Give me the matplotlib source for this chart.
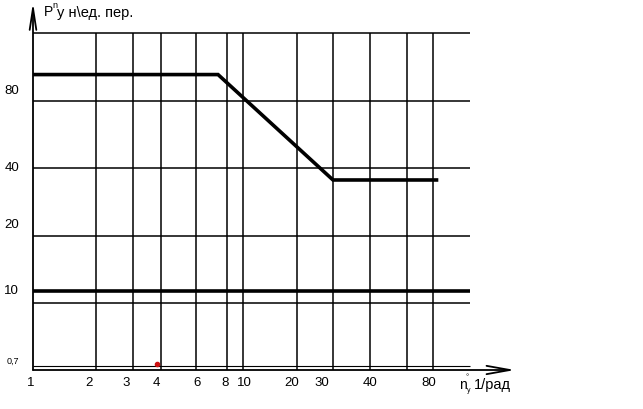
import numpy as np
import matplotlib.pyplot as plt

plt.rcParams['font.family'] = ['Liberation Sans', 'DejaVu Sans']

# vertical grid lines (x values, schematic) and horizontal grid lines (y values)
x_grid = [2, 3, 4.07, 6, 8.4, 10, 18.1, 26.8, 40, 60, 80]
y_grid = [4.3, 8.7, 18.6, 40, 85, 184]

# x tick labels and where they sit
x_tick_pos = [0.97, 1.85, 2.77, 3.85, 6.04, 8.2, 10.2, 17.1, 23.7, 40.3, 76.2]
x_tick_labels = ['1', '2', '3', '4', '6', '8', '10', '20', '30', '40', '80']

# y tick labels (schematic positions)
y_ticks = [4.5, 10, 21, 40, 95]
y_tick_labels = ['0,7', '10', '20', '40', '80']

# main curve
curve_x = [1, 7.6, 26.8, 85]
curve_y = [115, 115, 35, 35]

# constant level
level_x = [1, 120]
level_y = [10, 10]

# red point
dot_x = [3.9]
dot_y = [4.4]

W, H = 643, 409
fig = plt.figure(figsize=(W / 100, H / 100), dpi=100)
ax = fig.add_axes([33 / W, 1 - 370 / H, (515 - 33) / W, (370 - 12) / H])
ax.set_xscale('log')
ax.set_yscale('log')
xmin, xmax = 1, 197
ymin, ymax = 4.1, 233
ax.set_xlim(xmin, xmax)
ax.set_ylim(ymin, ymax)
for s in ax.spines.values():
    s.set_visible(False)
ax.set_xticks([])
ax.set_yticks([])
ax.minorticks_off()

grid_right = 120
for xv in x_grid:
    ax.plot([xv, xv], [ymin, y_grid[-1]], color='black', lw=1.1, solid_capstyle='butt')
for yv in y_grid:
    lw = 0.8 if yv == y_grid[0] else 1.1
    ax.plot([1, grid_right], [yv, yv], color='black', lw=lw, solid_capstyle='butt')

ax.plot(level_x, level_y, color='black', lw=2.6, solid_capstyle='butt')
ax.plot(curve_x, curve_y, color='black', lw=2.6, solid_capstyle='butt', solid_joinstyle='miter')
ax.plot(dot_x, dot_y, 'o', color='#cc1111', ms=3)

# axes with arrows
ax.annotate('', xy=(1, 260), xytext=(1, ymin), annotation_clip=False,
            arrowprops=dict(arrowstyle='->,head_length=1.3,head_width=0.2', color='black',
                            lw=1.3, mutation_scale=12, shrinkA=0, shrinkB=0))
ax.annotate('', xy=(xmax, ymin), xytext=(1, ymin), annotation_clip=False,
            arrowprops=dict(arrowstyle='->,head_length=1.4,head_width=0.25', color='black',
                            lw=1.3, mutation_scale=12, shrinkA=0, shrinkB=0))

# tick labels
for xv, lab in zip(x_tick_pos, x_tick_labels):
    ax.annotate(lab, xy=(xv, ymin), xytext=(0, -5), textcoords='offset points',
                ha='center', va='top', fontsize=9.5, annotation_clip=False)
for yv, lab in zip(y_ticks, y_tick_labels):
    fs = 6.5 if lab == '0,7' else 9.5
    ax.annotate(lab, xy=(1, yv), xytext=(-10, 0), textcoords='offset points',
                ha='right', va='center', fontsize=fs, annotation_clip=False)


def px(x, y):
    return x / W, 1 - y / H


# axis titles
fig.text(*px(44, 16), 'P', fontsize=10, va='baseline')
fig.text(*px(52, 8), 'n', fontsize=6.5, va='baseline')
fig.text(*px(57, 17), 'у н\\ед. пер.', fontsize=10.5, va='baseline')

fig.text(*px(459, 389), 'n', fontsize=10, va='baseline')
fig.text(*px(466, 379), '°', fontsize=5.5, va='baseline')
fig.text(*px(467, 392), 'у', fontsize=5, va='baseline')
fig.text(*px(474, 389), '1/рад', fontsize=10.5, va='baseline')

fig.savefig('out.png', dpi=100)
